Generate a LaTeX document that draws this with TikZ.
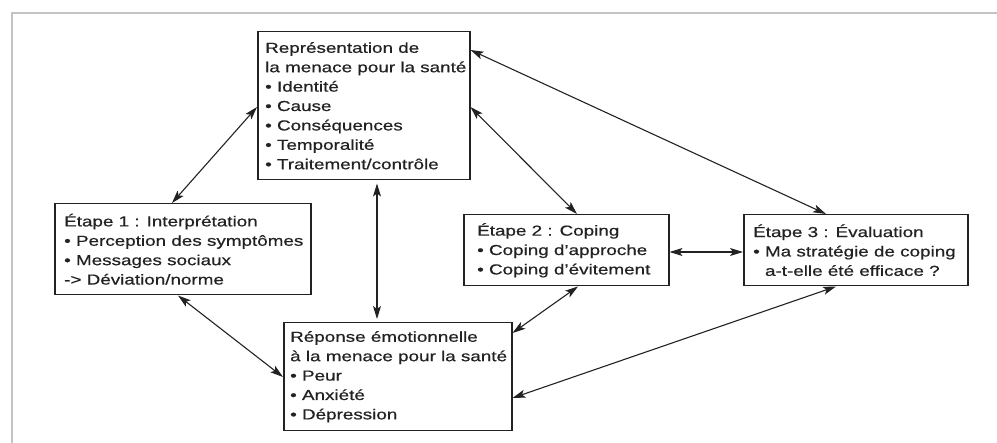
\documentclass[tikz,border=0pt]{standalone}
\usepackage{fontspec}
\setmainfont[FakeStretch=1.3,FakeBold=0.6]{Liberation Sans}
\usetikzlibrary{arrows.meta}
\definecolor{ink}{HTML}{222222}
\definecolor{framegray}{HTML}{C4C4C4}
\tikzset{
  boxframe/.style={draw=ink, line width=1.5pt, rectangle, inner sep=0pt, anchor=north west},
  boxtext/.style={inner sep=0pt, align=left, anchor=west, text=ink,
    font=\fontsize{14.5}{19.4}\selectfont},
  link/.style={draw=ink, line width=1.1pt,
    {Stealth[length=13pt,width=8pt,inset=3pt]}-{Stealth[length=13pt,width=8pt,inset=3pt]}},
}
\begin{document}
\begin{tikzpicture}[x=1pt,y=-1pt]
\useasboundingbox (0,0) rectangle (997,443);
% outer faint frame
\draw[framegray, line width=2pt] (12,443) -- (12,13) -- (997,13);

% boxes
\node[boxframe, minimum width=212pt, minimum height=148pt] (rep) at (257,31) {};
\node[boxframe, minimum width=256pt, minimum height=91pt] (e1) at (54,203) {};
\node[boxframe, minimum width=205pt, minimum height=71pt] (e2) at (463,214) {};
\node[boxframe, minimum width=224pt, minimum height=71pt] (e3) at (743,214) {};
\node[boxframe, minimum width=228pt, minimum height=108pt] (resp) at (283,322) {};

% texts
\node[boxtext] (rept) at ([xshift=8pt]rep.west) {Représentation de\\la menace pour la santé\\• Identité\\• Cause\\• Conséquences\\• Temporalité\\• Traitement/contrôle};
\node[boxtext] (e1t) at ([xshift=10pt]e1.west) {Étape 1 : Interprétation\\• Perception des symptômes\\• Messages sociaux\\-> Déviation/norme};
\node[boxtext] (e2t) at ([xshift=14pt]e2.west) {Étape 2 : Coping\\• Coping d’approche\\• Coping d’évitement};
\node[boxtext] (e3t) at ([xshift=10pt]e3.west) {Étape 3 : Évaluation\\• Ma stratégie de coping\\\phantom{• }a-t-elle été efficace ?};
\node[boxtext] (respt) at ([xshift=7pt]resp.west) {Réponse émotionnelle\\à la menace pour la santé\\• Peur\\• Anxiété\\• Dépression};

% connectors
\draw[link] ([xshift=118pt]e1.north west) -- ([yshift=-76pt]rep.north west);
\draw[link, shorten <=3pt, shorten >=3pt] ([xshift=120pt]rep.south west) -- ([xshift=94pt]resp.north west);
\draw[link] ([yshift=-76pt]rep.north east) -- ([xshift=114pt]e2.north west);
\draw[link] ([yshift=-19pt]rep.north east) -- ([xshift=83pt]e3.north west);
\draw[link] ([yshift=-38pt]e2.north east) -- ([yshift=-38pt]e3.north west);
\draw[link] ([xshift=124pt]e1.south west) -- ([yshift=-55pt]resp.north west);
\draw[link] ([xshift=115pt]e2.south west) -- ([yshift=-11pt]resp.north east);
\draw[link] ([xshift=93pt]e3.south west) -- ([yshift=-76pt]resp.north east);
\end{tikzpicture}
\end{document}
